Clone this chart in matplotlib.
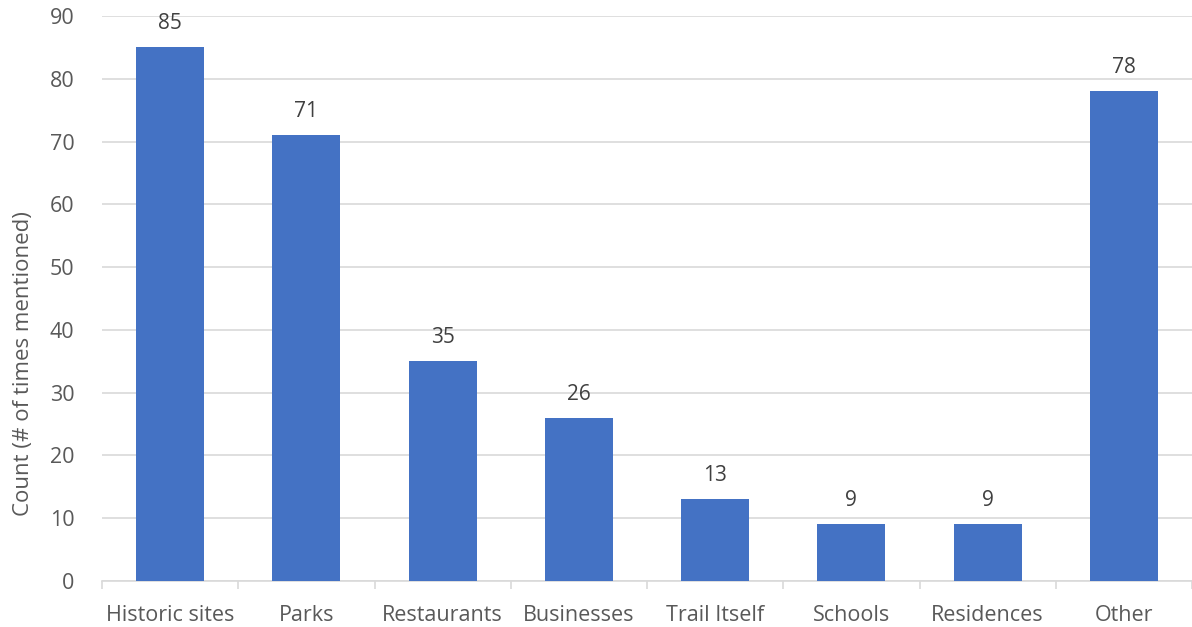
import matplotlib.pyplot as plt
import numpy as np

categories = ["Historic sites", "Parks", "Restaurants", "Businesses",
              "Trail Itself", "Schools", "Residences", "Other"]
counts = [85, 71, 35, 26, 13, 9, 9, 78]
y_ticks = [0, 10, 20, 30, 40, 50, 60, 70, 80, 90]

plt.rcParams["font.family"] = ["Open Sans", "DejaVu Sans"]

fig = plt.figure(figsize=(11.92, 6.27), dpi=100)
ax = fig.add_axes([0.0856, 0.0734, 0.9144, 0.9011])

x = np.arange(len(categories))
ax.bar(x, counts, width=0.5, color="#4472C4", zorder=3)

for xi, v in zip(x, counts):
    ax.text(xi, v + 2.1, str(v), ha="center", va="bottom",
            fontsize=15, color="#404040")

ax.set_xlim(-0.5, len(categories) - 0.5)
ax.set_ylim(0, 90)
ax.set_yticks(y_ticks)
ax.grid(axis="y", color="#D9D9D9", linewidth=1.2, zorder=0)

ax.set_xticks(x)
ax.set_xticklabels(categories)
ax.set_xticks(np.arange(-0.5, len(categories) + 0.5), minor=True)
ax.tick_params(axis="x", which="major", length=0, pad=17, labelsize=15.5, labelcolor="#595959")
ax.tick_params(axis="x", which="minor", length=6, color="#D9D9D9", width=1.2)
ax.tick_params(axis="y", length=0, pad=20, labelsize=15.5, labelcolor="#595959")

for side in ["top", "right", "left"]:
    ax.spines[side].set_visible(False)
ax.spines["bottom"].set_color("#D9D9D9")
ax.spines["bottom"].set_linewidth(1.2)

ax.set_ylabel("Count (# of times mentioned)", fontsize=16, color="#595959")
ax.yaxis.set_label_coords(-0.062, 0.384)

fig.savefig("out.png", dpi=100)
